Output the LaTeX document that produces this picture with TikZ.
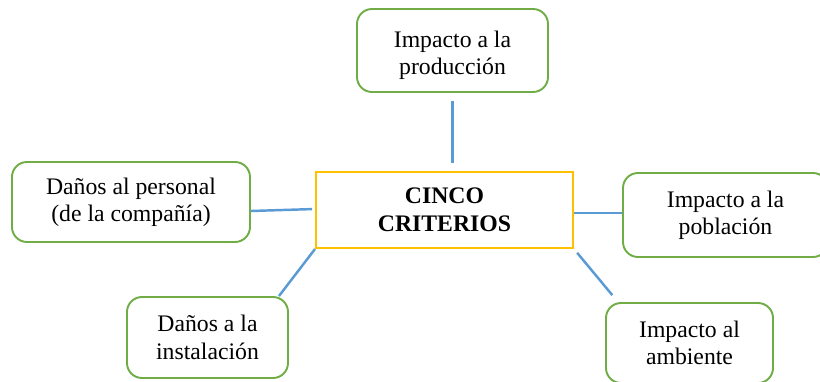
\documentclass[tikz,border=0pt]{standalone}
\usepackage{fontspec}
\setmainfont{Liberation Serif}
\usepackage{tikz}
\usetikzlibrary{shapes}

\definecolor{verde}{RGB}{112,173,71}
\definecolor{amarillo}{RGB}{255,192,0}
\definecolor{azul}{RGB}{91,155,213}

\begin{document}
\begin{tikzpicture}
\tikzstyle{crit} = [rectangle,rounded corners=0.3cm,draw=verde,line width=1.1pt,fill=none,align=center,inner sep=0pt,minimum height=1.62cm,font=\fontsize{13.5}{15.5}\selectfont]
\tikzstyle{centro} = [rectangle,draw=amarillo,line width=1.1pt,fill=none,align=center,inner sep=0pt,font=\fontsize{13.5}{16}\selectfont\bfseries]
\tikzstyle{enlace} = [draw=azul,line width=1.4pt,-]

\useasboundingbox (-8.89,-3.42) rectangle (7.51,4.2);

\node[centro](criterios) at (0,0) [minimum width=5.14cm,minimum height=1.52cm]	{CINCO\\CRITERIOS};
\node[crit](produccion) at (0.16,3.19) [minimum width=3.82cm,minimum height=1.66cm]	{\rule{0pt}{0.53cm}Impacto a la\\producción};
\node[crit](personal) at (-6.27,0.16) [minimum width=4.76cm,minimum height=1.6cm]	{Daños al personal\\(de la compañía)};
\node[crit](poblacion) at (5.62,-0.1) [minimum width=4.1cm,minimum height=1.68cm]	{Impacto a la\\población};
\node[crit](instalacion) at (-4.74,-2.55) [minimum width=3.22cm]	{Daños a la\\instalación};
\node[crit](ambiente) at (4.9,-2.66) [minimum width=3.34cm,minimum height=1.6cm]	{Impacto al\\ambiente};

\draw [enlace,shorten <=0.16cm,shorten >=0.16cm] (produccion.south) -- (produccion.south |- criterios.north);
\draw [enlace,shorten >=0.06cm] ([yshift=-0.18cm]personal.east) -- ([yshift=0.02cm]criterios.west);
\draw [enlace] ([yshift=-0.06cm]criterios.east) -- ([yshift=-0.06cm]criterios.east -| poblacion.west);
\draw [enlace] (criterios.south west) -- ([xshift=-0.2cm]instalacion.north east);
\draw [enlace,shorten <=0.1cm,shorten >=0.18cm] (criterios.south east) -- ([xshift=0.26cm]ambiente.north west);

\end{tikzpicture}
\end{document}
